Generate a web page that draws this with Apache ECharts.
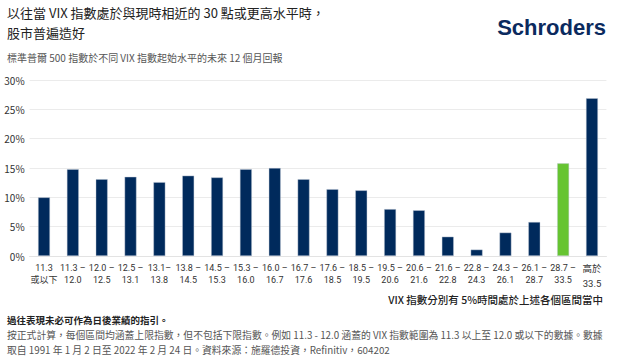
<!DOCTYPE html>
<html>
<head>
<meta charset="utf-8">
<script src="https://cdn.jsdelivr.net/npm/echarts@6/dist/echarts.min.js"></script>
<style>
html,body{margin:0;padding:0;background:#fff;}
#c{width:625px;height:360px;}
</style>
</head>
<body>
<div id="c"></div>
<script>
const categories = ['11.3\n或以下','11.3 –\n12.0','12.0 –\n12.5','12.5 –\n13.1','13.1–\n13.8','13.8 –\n14.5','14.5 –\n15.3','15.3 –\n16.0','16.0 –\n16.7','16.7 –\n17.6','17.6 –\n18.5','18.5 –\n19.5','19.5 –\n20.6','20.6 –\n21.6','21.6 –\n22.8','22.8 –\n24.3','24.3 –\n26.1','26.1 –\n28.7','28.7 –\n33.5','高於\n33.5'];
const returns = [10.0,14.8,13.1,13.5,12.6,13.7,13.4,14.8,15.0,13.1,11.4,11.2,8.0,7.8,3.3,1.1,4.0,5.8,15.8,26.9];
const highlightIndex = 18;
const yTicks = [0,5,10,15,20,25,30];

const FONT = '"Noto Sans CJK TC","Noto Sans",sans-serif';
const NUMFONT = 'Roboto,"Noto Sans CJK TC",sans-serif';
const NAVY = '#002a5c';
const GREEN = '#66c431';

const chart = echarts.init(document.getElementById('c'), null, {renderer:'svg'});
chart.setOption({
  animation:false,
  backgroundColor:'#fff',
  grid:{left:29.6, right:18.6, top:80, bottom:104, containLabel:false},
  xAxis:{
    type:'category',
    data:categories,
    axisLine:{show:true, lineStyle:{color:'#e3e3e3', width:1}},
    axisTick:{show:false},
    axisLabel:{
      interval:0, margin:6, color:'#333', fontFamily:NUMFONT, fontSize:9, lineHeight:12,
      formatter:function(v){
        if (v.indexOf('高於')===0){ const p=v.split('\n'); return '{a|'+p[0]+'}\n{b|'+p[1]+'}'; }
        return v;
      },
      rich:{
        a:{fontFamily:NUMFONT, fontSize:9.5, color:'#333', lineHeight:12},
        b:{fontFamily:NUMFONT, fontSize:9.5, color:'#333', lineHeight:12, padding:[6,0,0,0]}
      }
    }
  },
  yAxis:{
    type:'value', min:yTicks[0], max:yTicks[yTicks.length-1], interval:5,
    axisLine:{show:false}, axisTick:{show:false},
    splitLine:{lineStyle:{color:'#ebebeb', width:1}},
    axisLabel:{formatter:'{value}%', color:'#333', fontFamily:FONT, fontSize:10, margin:5}
  },
  series:[{
    type:'bar',
    data:returns.map((v,i)=>({value:v, itemStyle:{color: i===highlightIndex?GREEN:NAVY}})),
    barWidth:12,
    itemStyle:{borderColor:'rgba(190,200,215,0.7)', borderWidth:0.6}
  }],
  graphic:[
    {type:'text', left:7, top:6, style:{text:'以往當 VIX 指數處於與現時相近的 30 點或更高水平時，', fill:'#222', font:'13px '+FONT}},
    {type:'text', left:7, top:26, style:{text:'股市普遍造好', fill:'#222', font:'13px '+FONT}},
    {type:'text', left:7, top:52, style:{text:'標準普爾 500 指數於不同 VIX 指數起始水平的未來 12 個月回報', fill:'#555', font:'10px '+FONT}},
    {type:'text', right:19, top:16, style:{text:'Schroders', fill:'#0b2a5e', font:'bold 22px "Liberation Sans",Arial,sans-serif'}},
    {type:'text', right:22, top:294, style:{text:'VIX 指數分別有 5%時間處於上述各個區間當中', fill:'#222', font:'500 10.5px '+FONT}},
    {type:'text', left:7, top:315, style:{text:'過往表現未必可作為日後業績的指引。', fill:'#222', font:'bold 9.5px '+FONT}},
    {type:'text', left:7, top:330, style:{text:'按正式計算，每個區間均涵蓋上限指數，但不包括下限指數。例如 11.3 - 12.0 涵蓋的 VIX 指數範圍為 11.3 以上至 12.0 或以下的數據。數據', fill:'#555', font:'9.8px '+FONT}},
    {type:'text', left:7, top:345, style:{text:'取自 1991 年 1 月 2 日至 2022 年 2 月 24 日。資料來源：施羅德投資，Refinitiv，604202', fill:'#555', font:'9.8px '+FONT}}
  ]
});
</script>
</body>
</html>
